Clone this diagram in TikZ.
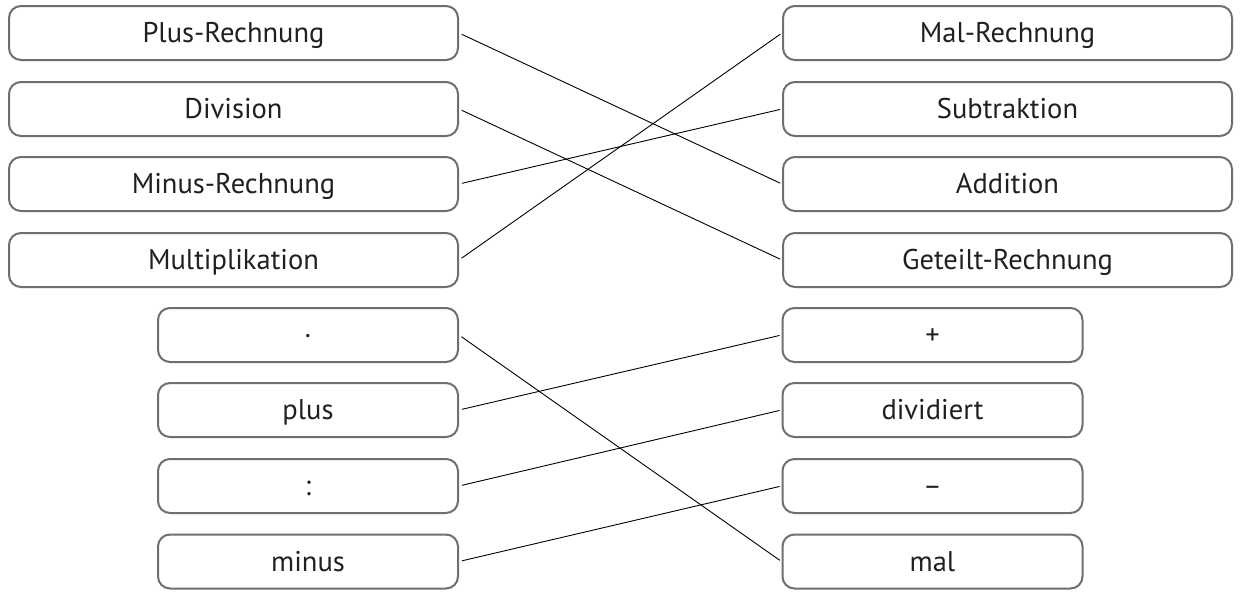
\documentclass[tikz,border=0pt]{standalone}
\usepackage{fontspec}
\setmainfont{PT Sans}
\definecolor{boxgray}{RGB}{110,111,116}
\definecolor{txt}{RGB}{35,31,32}
\begin{document}
\begin{tikzpicture}[x=1pt,y=-1pt,
  card/.style={draw=boxgray, line width=2pt, rounded corners=12pt, minimum height=54pt, inner sep=0pt, text height=19.5pt, text depth=0pt, font=\fontsize{28.5}{32}\selectfont, text=txt},
  wide/.style={card, minimum width=449pt},
  narrow/.style={card, minimum width=300pt},
  link/.style={draw=black, line width=0.9pt, shorten <=3pt, shorten >=2pt}]
\useasboundingbox (0,0) rectangle (1240,592);
% top left
\node[wide] (l1) at (233.5,33) {Plus-Rechnung};
\node[wide] (l2) at (233.5,109) {Division};
\node[wide] (l3) at (233.5,184) {Minus-Rechnung};
\node[wide] (l4) at (233.5,260) {Multiplikation};
% top right
\node[wide] (r1) at (1007.5,33) {Mal-Rechnung};
\node[wide] (r2) at (1007.5,109) {Subtraktion};
\node[wide] (r3) at (1007.5,184) {Addition};
\node[wide] (r4) at (1007.5,260) {Geteilt-Rechnung};
% bottom left
\node[narrow] (bl1) at (308,335) {·};
\node[narrow] (bl2) at (308,410) {plus};
\node[narrow] (bl3) at (308,486) {:};
\node[narrow] (bl4) at (308,561.5) {minus};
% bottom right
\node[narrow] (br1) at (932.5,335) {+};
\node[narrow] (br2) at (932.5,410) {dividiert};
\node[narrow] (br3) at (932.5,486) {–};
\node[narrow] (br4) at (932.5,561.5) {mal};
% connectors
\draw[link] (l1.east) -- (r3.west);
\draw[link] (l2.east) -- (r4.west);
\draw[link] (l3.east) -- (r2.west);
\draw[link] (l4.east) -- (r1.west);
\draw[link] (bl1.east) -- (br4.west);
\draw[link] (bl2.east) -- (br1.west);
\draw[link] (bl3.east) -- (br2.west);
\draw[link] (bl4.east) -- (br3.west);
\end{tikzpicture}
\end{document}
